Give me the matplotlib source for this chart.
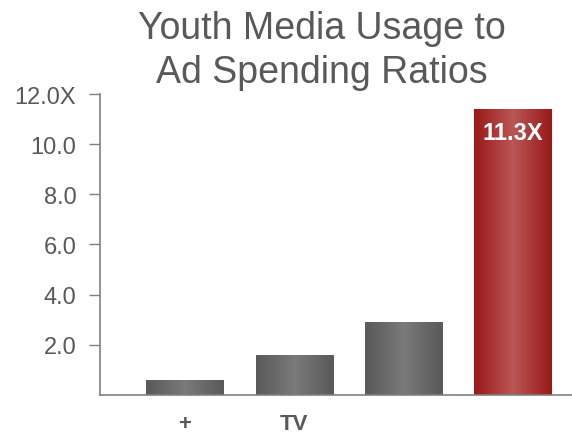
import numpy as np
import matplotlib
matplotlib.use('Agg')
import matplotlib.pyplot as plt
from matplotlib.colors import LinearSegmentedColormap

plt.rcParams['font.family'] = ['Liberation Sans', 'DejaVu Sans']

# data
categories = ['+', 'TV', '', '']
ratios = [0.6, 1.6, 2.9, 11.4]
bar_labels = ['', '', '', '11.3X']
y_ticks = [2, 4, 6, 8, 10, 12]
y_tick_labels = ['2.0', '4.0', '6.0', '8.0', '10.0', '12.0X']
title_lines = ['Youth Media Usage to', 'Ad Spending Ratios']

text_color = '#595959'
axis_color = '#808080'
gray_map = LinearSegmentedColormap.from_list('g', ['#595959', '#7a7a7a', '#595959'])
red_map = LinearSegmentedColormap.from_list('r', ['#9a1818', '#bb5656', '#9a1818'])
bar_maps = [gray_map, gray_map, gray_map, red_map]

fig = plt.figure(figsize=(5.72, 4.35), dpi=100)
ax = fig.add_axes([0.1748, 0.0897, 0.8252, 0.6919])

x = np.arange(len(categories))
bars = ax.bar(x, ratios, width=0.705, color='none', edgecolor='none')

# horizontal gradient fill, clipped to each bar
grad = np.linspace(0, 1, 256).reshape(1, -1)
for bar, cmap in zip(bars, bar_maps):
    x0, y0 = bar.get_x(), bar.get_y()
    w, h = bar.get_width(), bar.get_height()
    im = ax.imshow(grad, cmap=cmap, aspect='auto', extent=(x0, x0 + w, y0, y0 + h),
                   interpolation='bicubic', zorder=2)
    im.set_clip_path(bar)

for bar, lab in zip(bars, bar_labels):
    if lab:
        ax.text(bar.get_x() + bar.get_width() / 2, bar.get_height() - 0.95, lab,
                ha='center', va='center', color='white', fontsize=17, fontweight='bold')

ax.set_xlim(-0.775, 3.54)
ax.set_ylim(0, 12)
ax.set_xticks(x)
ax.set_xticklabels(categories, fontsize=16, color=text_color, fontweight='bold')
ax.tick_params(axis='x', length=0, pad=13)
ax.set_yticks(y_ticks)
ax.set_yticklabels(y_tick_labels, fontsize=17, color=text_color)
ax.tick_params(axis='y', length=8, width=1, color=axis_color, pad=9)

for side in ['top', 'right']:
    ax.spines[side].set_visible(False)
for side in ['left', 'bottom']:
    ax.spines[side].set_color(axis_color)
    ax.spines[side].set_linewidth(1.2)

# title, one line at a time so the baselines sit where the reference has them
for line, yb in zip(title_lines, [0.910, 0.809]):
    fig.text(0.563, yb, line, ha='center', va='baseline', fontsize=27, color=text_color)

plt.savefig('out.png', dpi=100)
